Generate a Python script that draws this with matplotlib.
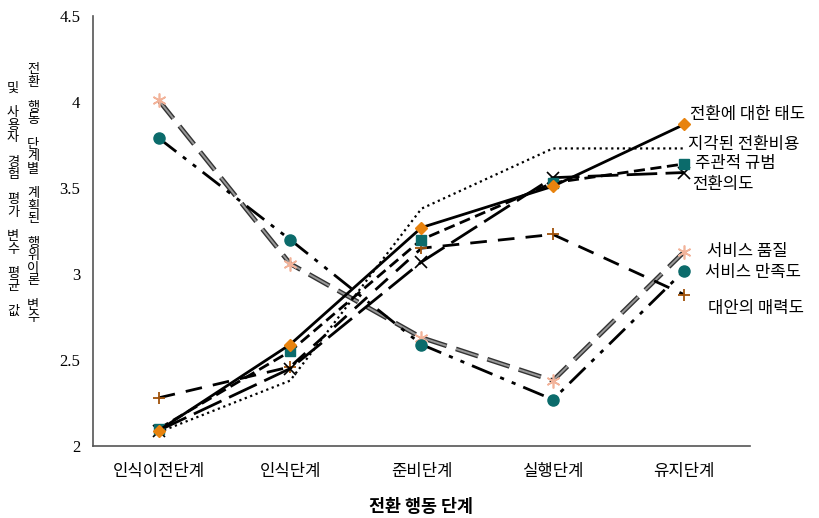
import matplotlib
matplotlib.use('Agg')
import matplotlib.pyplot as plt
import matplotlib.patheffects as pe

plt.rcParams['font.family'] = ['Noto Sans CJK KR', 'DejaVu Sans']

# Categories (x axis)
stages = ['인식이전단계', '인식단계', '준비단계', '실행단계', '유지단계']

# Series values
attitude = [2.09, 2.59, 3.27, 3.51, 3.87]      # 전환에 대한 태도
cost = [2.08, 2.38, 3.38, 3.73, 3.73]          # 지각된 전환비용
norm = [2.10, 2.55, 3.20, 3.53, 3.64]          # 주관적 규범
intention = [2.09, 2.45, 3.07, 3.56, 3.59]     # 전환의도
quality = [4.01, 3.06, 2.63, 2.38, 3.13]       # 서비스 품질
satisfaction = [3.79, 3.20, 2.59, 2.27, 3.02]  # 서비스 만족도
alternative = [2.28, 2.46, 3.15, 3.23, 2.88]   # 대안의 매력도

labels = ['전환에 대한 태도', '지각된 전환비용', '주관적 규범', '전환의도',
          '서비스 품질', '서비스 만족도', '대안의 매력도']

x = list(range(len(stages)))

fig = plt.figure(figsize=(8.2, 5.18), dpi=100)
ax = fig.add_axes([93 / 820, 72 / 518, 657 / 820, 430 / 518])

# 서비스 품질: double-line long dash
ax.plot(x, quality, color='#999999', lw=1.4, dashes=(12, 5),
        path_effects=[pe.Stroke(linewidth=3.4, foreground='#333333'), pe.Normal()])
ax.plot(x, quality, linestyle='none', marker=(6, 2, 0), ms=10,
        mec='#F2B39A', mfc='#F2B39A', mew=1.2)
# 서비스 만족도: dash-dot-dot
ax.plot(x, satisfaction, color='black', lw=2, dashes=(8, 3, 1.5, 3, 1.5, 3),
        marker='o', ms=8, mfc='#0B6B6B', mec='#0B6B6B')
# 지각된 전환비용: dotted
ax.plot(x, cost, color='black', lw=1.6, linestyle=(0, (1, 1.6)))
# 대안의 매력도
ax.plot(x, alternative, color='black', lw=2, dashes=(6, 4),
        marker='+', ms=9, mec='#A0520A', mew=1.3)
# 전환의도
ax.plot(x, intention, color='black', lw=2, dashes=(11, 3),
        marker='x', ms=8, mec='black', mew=1.2)
# 주관적 규범
ax.plot(x, norm, color='black', lw=2, dashes=(4, 2),
        marker='s', ms=7, mfc='#0B6B6B', mec='#0B6B6B')
# 전환에 대한 태도
ax.plot(x, attitude, color='black', lw=2,
        marker='D', ms=6, mfc='#E8830E', mec='#E8830E')

# End labels
label_pos = [(0.045, 3.93), (0.03, 3.75), (0.085, 3.64), (0.06, 3.52),
             (0.17, 3.13), (0.16, 3.01), (0.18, 2.8)]
for lab, (dx, yy) in zip(labels, label_pos):
    ax.text(4 + dx, yy, lab, fontsize=12, va='center', ha='left')

ax.set_xlim(-0.5, 4.5)
ax.set_ylim(2, 4.5)
ax.set_xticks(x)
ax.set_xticklabels(stages, fontsize=12)
ax.set_yticks([2, 2.5, 3, 3.5, 4, 4.5])
ax.set_yticklabels(['2', '2.5', '3', '3.5', '4', '4.5'],
                   fontsize=12, family='Liberation Serif')
ax.tick_params(length=0)
ax.tick_params(axis='x', pad=12)
ax.tick_params(axis='y', pad=9)
for s in ['top', 'right']:
    ax.spines[s].set_visible(False)
for s in ['left', 'bottom']:
    ax.spines[s].set_color('#555555')
    ax.spines[s].set_linewidth(1.2)

ax.set_xlabel('전환 행동 단계', fontsize=12.5, fontweight='bold', labelpad=13)

# Vertical stacked y label, two columns, one character per line
col1 = '전환 행동 단계별 계획된 행위이론 변수'
col2 = '및 사용자 경험 평가 변수 평균 값'
step = 12.4
for text, cx, y0 in [(col1, 33, 70), (col2, 13, 88)]:
    for i, ch in enumerate(text):
        if ch == ' ':
            continue
        fig.text(cx / 820, 1 - (y0 + i * step) / 518, ch, fontsize=9.5,
                 ha='center', va='center')

plt.savefig('out.png', dpi=100)
